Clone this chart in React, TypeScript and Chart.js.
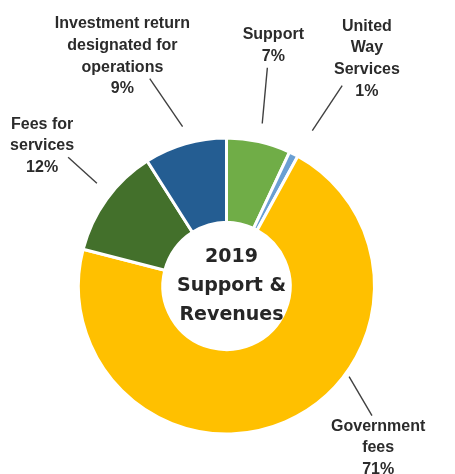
import React, { useEffect, useRef } from "react";
import { Chart, registerables } from "chart.js";

Chart.register(...registerables);

const categories = [
  "Support",
  "United Way Services",
  "Government fees",
  "Fees for services",
  "Investment return designated for operations",
];
const values = [7, 1, 71, 12, 9];
const labelLines = [
  ["Support", "7%"],
  ["United", "Way", "Services", "1%"],
  ["Government", "fees", "71%"],
  ["Fees for", "services", "12%"],
  ["Investment return", "designated for", "operations", "9%"],
];
const colors = ["#70AD47", "#6A9FD3", "#FFC000", "#43702B", "#245D92"];
const centerLines = ["2019", "Support &", "Revenues"];

// label placement in polar terms relative to the doughnut (angle deg clockwise from top, radius factor of outer radius)
const labelLayout = [
  { from: [12.4, 1.136], to: [10.6, 1.516], text: [11.0, 1.674] },
  { from: [28.9, 1.212], to: [30.0, 1.579], text: [31.7, 1.824] },
  { from: [126.5, 1.041], to: [131.7, 1.33], text: [136.9, 1.515] },
  { from: [-51.6, 1.129], to: [-50.9, 1.393], text: [-52.8, 1.58] },
  { from: [-15.4, 1.129], to: [-20.3, 1.51], text: [-24.4, 1.72] },
];

const labelPlugin = {
  id: "outerLabels",
  afterDraw(chart: any) {
    const meta = chart.getDatasetMeta(0);
    const arc0 = meta.data[0];
    if (!arc0) return;
    const cx = arc0.x;
    const cy = arc0.y;
    const R = 146.5;
    const ctx = chart.ctx;
    const pt = (a: number, f: number) => {
      const t = (a * Math.PI) / 180;
      return [cx + Math.sin(t) * f * R, cy - Math.cos(t) * f * R];
    };
    ctx.save();
    labelLayout.forEach((l, i) => {
      const p1 = pt(l.from[0], l.from[1]);
      const p2 = pt(l.to[0], l.to[1]);
      ctx.strokeStyle = "#404040";
      ctx.lineWidth = 1.4;
      ctx.beginPath();
      ctx.moveTo(p1[0], p1[1]);
      ctx.lineTo(p2[0], p2[1]);
      ctx.stroke();
      const tp = pt(l.text[0], l.text[1]);
      const lines = labelLines[i];
      const lh = 21.7;
      ctx.fillStyle = "#2b2b2b";
      ctx.font = "bold 16px 'Liberation Sans', Arial, sans-serif";
      ctx.textAlign = "center";
      ctx.textBaseline = "middle";
      lines.forEach((s, j) => {
        ctx.fillText(s, tp[0], tp[1] + (j - (lines.length - 1) / 2) * lh);
      });
    });
    // center title
    ctx.fillStyle = "#262626";
    ctx.font = "bold 19px 'DejaVu Sans', sans-serif";
    ctx.textAlign = "center";
    ctx.textBaseline = "alphabetic";
    const clh = 29;
    centerLines.forEach((s, j) => {
      ctx.fillText(s, cx + 5, cy + 5 + (j - 1) * clh);
    });
    ctx.restore();
  },
};

export default function App() {
  const ref = useRef<HTMLCanvasElement>(null);
  useEffect(() => {
    document.body.style.margin = "0";
    const chart = new Chart(ref.current!, {
      type: "doughnut",
      data: {
        labels: categories,
        datasets: [
          {
            data: values,
            backgroundColor: colors,
            borderColor: "#ffffff",
            borderWidth: 3,
            hoverOffset: 0,
          },
        ],
      },
      options: {
        responsive: false,
        animation: false,
        radius: 148,
        cutout: "43%",
        layout: { padding: { left: 0, right: 2, top: 98, bottom: 0 } },
        plugins: {
          legend: { display: false },
          tooltip: { enabled: false },
        },
      } as any,
      plugins: [labelPlugin],
    });
    return () => chart.destroy();
  }, []);
  return (
    <div style={{ width: 455, height: 474, background: "#fff" }}>
      <canvas ref={ref} width={455} height={474} style={{ display: "block" }} />
    </div>
  );
}
